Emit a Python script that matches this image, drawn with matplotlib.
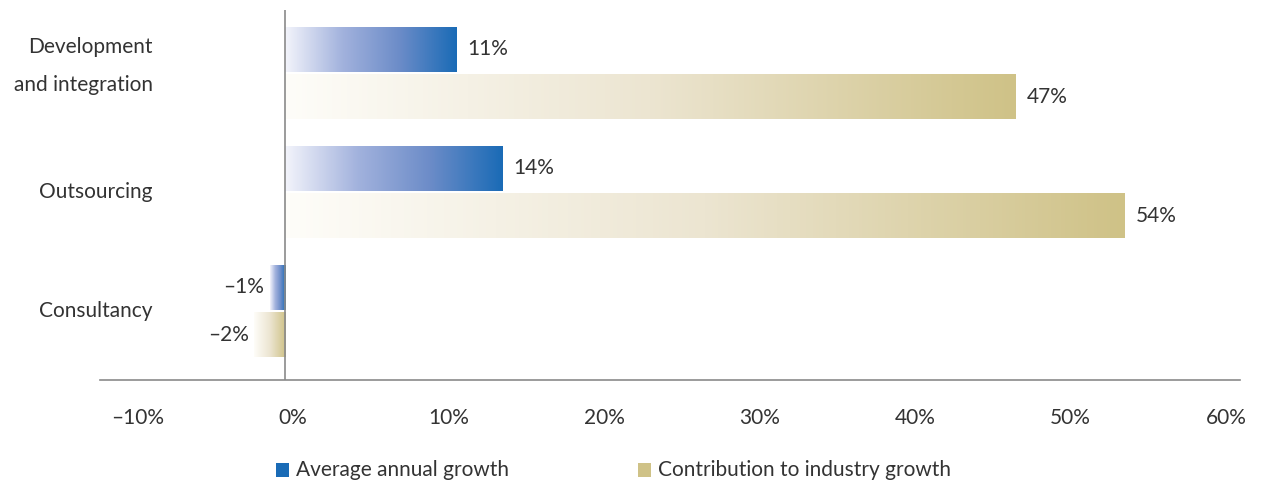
import numpy as np
import matplotlib.pyplot as plt
from matplotlib.colors import LinearSegmentedColormap
from matplotlib.patches import Rectangle
import matplotlib.transforms as mtransforms

plt.rcParams['font.family'] = ['Lato', 'DejaVu Sans']

# data
categories = ['Development\nand integration', 'Outsourcing', 'Consultancy']
avg_growth = [11, 14, -1]
contribution = [47, 54, -2]
series_names = ['Average annual growth', 'Contribution to industry growth']
xticks = [-10, 0, 10, 20, 30, 40, 50, 60]

text_col = '#333333'
fs = 15
blue_cmap = LinearSegmentedColormap.from_list('b', ['#f3f4fb', '#a2b2dd', '#6c8cc8', '#1a6bb6'])
gold_cmap = LinearSegmentedColormap.from_list('g', ['#fefdf9', '#ece5d1', '#cfc287'])

fig = plt.figure(figsize=(12.68, 4.84), dpi=100)
ax = fig.add_axes([100/1268, 1-380/484, 1140/1268, 370/484])

bh = 0.378
off = 0.2
grad = np.linspace(0, 1, 256).reshape(1, -1)

def gbar(y, v, cmap):
    x0, x1 = min(0, v), max(0, v)
    ax.imshow(grad, cmap=cmap, aspect='auto', extent=(x0, x1, y + bh/2, y - bh/2),
              interpolation='bilinear', zorder=2)

for i, (a, c) in enumerate(zip(avg_growth, contribution)):
    ya = i - off
    yc = i + off
    gbar(ya, a, blue_cmap)
    gbar(yc, c, gold_cmap)
    for y, v in ((ya, a), (yc, c)):
        lab = ('%d%%' % v).replace('-', '\u2013')
        if v >= 0:
            ax.text(v + 0.7, y, lab, ha='left', va='center', fontsize=fs, color=text_col)
        else:
            ax.text(v - 0.35, y, lab, ha='right', va='center', fontsize=fs, color=text_col)

ax.set_xlim(-11.9, 61.4)
ax.set_ylim(2.58, -0.53)

# category labels
tr = mtransforms.blended_transform_factory(ax.transAxes, ax.transData)
for i, cat in enumerate(categories):
    yy = i - 0.06 if '\n' in cat else i
    ax.text(53/1140, yy, cat, transform=tr, ha='right', va='center', fontsize=fs,
            color=text_col, linespacing=2.15)

ax.axvline(0, color='#8a8a8a', lw=1.2, zorder=3)
for s in ['top', 'right', 'left']:
    ax.spines[s].set_visible(False)
ax.spines['bottom'].set_color('#8a8a8a')
ax.spines['bottom'].set_linewidth(1.2)
ax.set_yticks([])
ax.set_xticks(xticks)
ax.set_xticklabels([('%d%%' % t).replace('-', '\u2013') for t in xticks], fontsize=fs, color=text_col)
ax.tick_params(axis='x', length=0, pad=20)
shift = mtransforms.ScaledTranslation(8/100, 0, fig.dpi_scale_trans)
for lbl in ax.get_xticklabels():
    lbl.set_transform(lbl.get_transform() + shift)

# legend
for x0, col, name in ((276, '#1a6bb6', series_names[0]), (638, '#cfc287', series_names[1])):
    fig.patches.append(Rectangle((x0/1268, 1-477/484), 13/1268, 14/484, transform=fig.transFigure,
                                 facecolor=col, edgecolor='none'))
    fig.text((x0 + 20)/1268, 1-470/484, name, ha='left', va='center', fontsize=fs, color=text_col)

fig.savefig('out.png', dpi=100)
